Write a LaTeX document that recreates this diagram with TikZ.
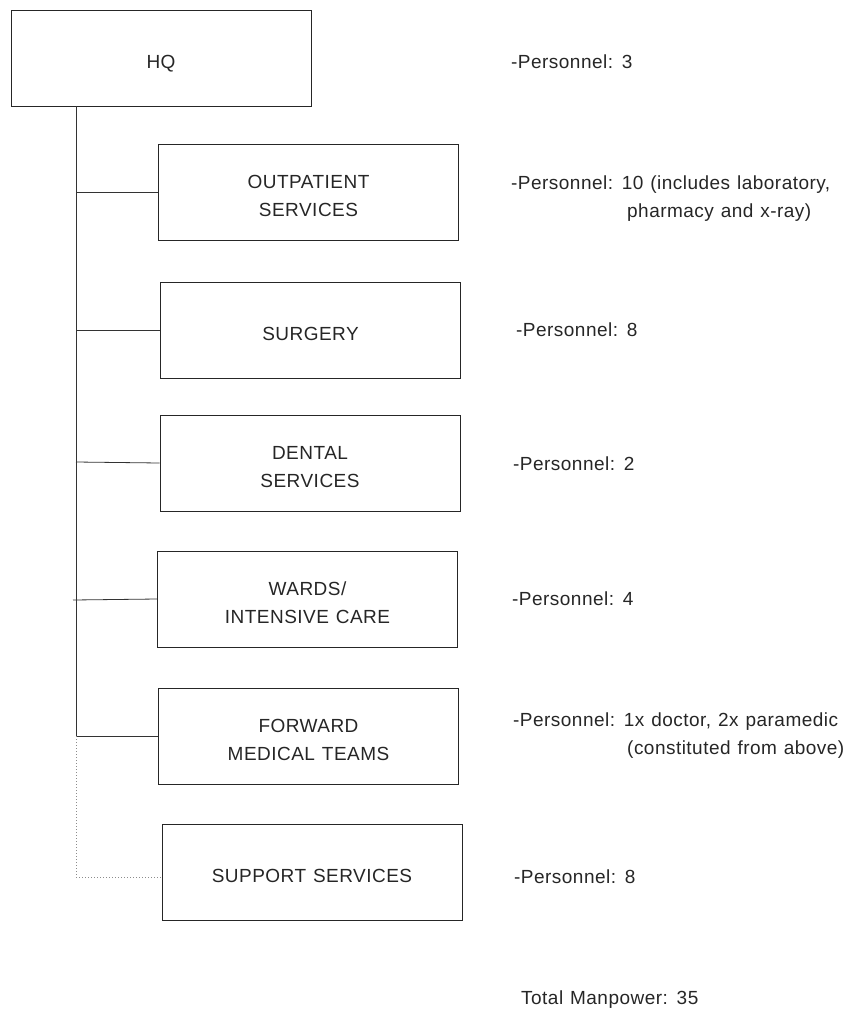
\documentclass[tikz,border=0pt]{standalone}
\usepackage{fontspec}
\setmainfont{Liberation Sans}[LetterSpace=2.5,WordSpace=1.2]
\newcommand\lbl[1]{\raisebox{-5pt}[\height][\depth]{\begin{tabular}{@{}c@{}}#1\end{tabular}}}
\begin{document}
\begin{tikzpicture}[x=1pt,y=-1pt,
  box/.style={draw=black!85,line width=0.8pt,minimum width=300pt,minimum height=96pt,inner sep=0pt,align=center,text=black!85,font=\fontsize{19}{28}\selectfont},
  info/.style={anchor=west,inner sep=0pt,align=left,text=black!85,font=\fontsize{19}{28}\selectfont},
  link/.style={draw=black!80,line width=0.8pt},
  dotlink/.style={draw=black!45,line width=1pt,dotted}]
\useasboundingbox (0,0) rectangle (862,1012);
\node[box] (hq) at (161,58) {\lbl{HQ}};
\node[box] (op) at (308.5,192) {\lbl{OUTPATIENT\\SERVICES}};
\node[box] (su) at (310.5,330) {\lbl{SURGERY}};
\node[box] (de) at (310,463) {\lbl{DENTAL\\SERVICES}};
\node[box] (wa) at (307.5,599) {\lbl{WARDS/\\INTENSIVE CARE}};
\node[box] (fw) at (308.5,736) {\lbl{FORWARD\\MEDICAL TEAMS}};
\node[box] (sp) at (312,872) {\lbl{SUPPORT SERVICES}};
\coordinate (top) at (76,106);
\coordinate (mid) at (76,736);
\coordinate (bot) at (76,877);
\draw[link] (top) -- (mid);
\draw[link] (76,192) -- (op.west);
\draw[link] (76,330) -- (su.west);
\draw[link] (76,462) -- (de.west);
\draw[link] (73,600) -- (wa.west);
\draw[link] (mid) -- (fw.west);
\draw[dotlink] (mid) -- (bot) -- (bot -| sp.west);
\node[info] (t1) at (511,62) {-Personnel: 3};
\node[info] (t2) at (511,199) {-Personnel: 10 (includes laboratory,\\\hspace*{116pt}pharmacy and x-ray)};
\node[info] (t3) at (516,330) {-Personnel: 8};
\node[info] (t4) at (513,464) {-Personnel: 2};
\node[info] (t5) at (512,599) {-Personnel: 4};
\node[info] (t6) at (513,736) {-Personnel: 1x doctor, 2x paramedic\\\hspace*{114pt}(constituted from above)};
\node[info] (t7) at (514,877) {-Personnel: 8};
\node[info] (t8) at (521,1000) {Total Manpower: 35};
\end{tikzpicture}
\end{document}
